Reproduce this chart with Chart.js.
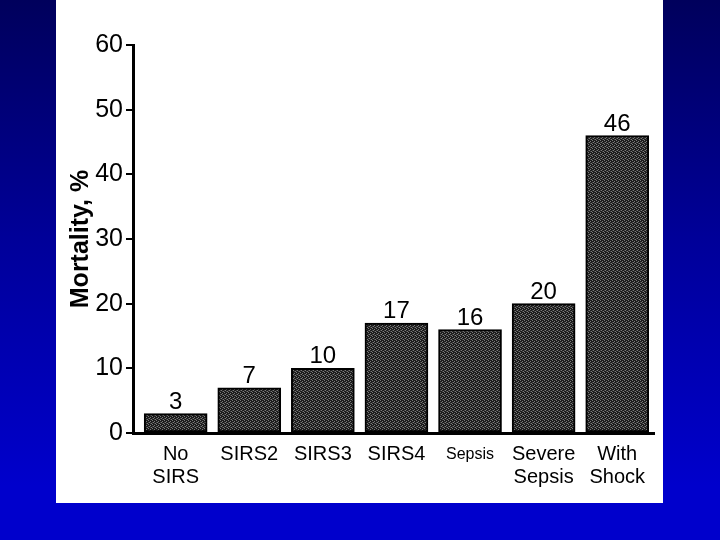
<!DOCTYPE html>
<html>
<head>
<meta charset="utf-8">
<script src="https://cdn.jsdelivr.net/npm/chart.js@4.4.1/dist/chart.umd.min.js"></script>
<style>
  html, body { margin: 0; padding: 0; }
  body { width: 720px; height: 540px; overflow: hidden; position: relative;
         background: linear-gradient(to bottom, #00005c 0%, #00009a 45%, #0000cc 90%, #0000cc 100%); }
  #panel { position: absolute; left: 56px; top: 0; width: 607px; height: 503px; background: #ffffff; }
  #c { position: absolute; left: 0; top: 0; }
</style>
</head>
<body>
<div id="panel"></div>
<canvas id="c" width="720" height="540"></canvas>
<script>
// ---- data ----
const categories = [["No", "SIRS"], ["SIRS2"], ["SIRS3"], ["SIRS4"], ["Sepsis"], ["Severe", "Sepsis"], ["With", "Shock"]];
const mortality = [3, 7, 10, 17, 16, 20, 46];
const yTicks = [0, 10, 20, 30, 40, 50, 60];
const yTitle = "Mortality, %";

// ---- bar texture (dithered dark gray, like the scanned print) ----
function makePattern() {
  const p = document.createElement('canvas');
  p.width = 4; p.height = 4;
  const g = p.getContext('2d');
  g.fillStyle = '#1c1c1c'; g.fillRect(0, 0, 4, 4);
  g.fillStyle = '#7a7a7a';
  [[0,0],[2,1],[1,2],[3,3]].forEach(([x,y]) => g.fillRect(x, y, 1, 1));
  g.fillStyle = '#444444';
  [[2,3],[0,2]].forEach(([x,y]) => g.fillRect(x, y, 1, 1));
  return g.createPattern(p, 'repeat');
}

const valueLabels = {
  id: 'valueLabels',
  afterDatasetsDraw(chart) {
    const ctx = chart.ctx;
    const meta = chart.getDatasetMeta(0);
    ctx.save();
    ctx.fillStyle = '#000';
    ctx.font = '24px "Liberation Sans", Arial, sans-serif';
    ctx.textAlign = 'center';
    ctx.textBaseline = 'alphabetic';
    meta.data.forEach((bar, i) => {
      ctx.fillText(String(mortality[i]), bar.x, bar.y - 5);
    });
    ctx.restore();
  }
};

const ctx = document.getElementById('c').getContext('2d');
new Chart(ctx, {
  type: 'bar',
  data: {
    datasets: [{
      data: mortality.map((v, i) => ({ x: i, y: v })),
      backgroundColor: makePattern(),
      borderColor: '#000000',
      borderWidth: 2,
      borderSkipped: false,
      barThickness: 63
    }]
  },
  options: {
    responsive: false,
    animation: false,
    devicePixelRatio: 1,
    layout: { padding: { left: 55, top: 45, right: 66, bottom: 0 } },
    plugins: { legend: { display: false }, tooltip: { enabled: false } },
    scales: {
      x: {
        type: 'linear',
        offset: false,
        min: -0.58,
        max: 6.5,
        afterBuildTicks(scale) { scale.ticks = categories.map((c, i) => ({ value: i })); },
        afterFit(scale) { scale.height = 107; },
        grid: { display: false, drawTicks: false, offset: false },
        border: { display: true, color: '#000', width: 3 },
        ticks: {
          color: '#000',
          padding: 10,
          autoSkip: false,
          maxRotation: 0,
          font: (c) => (c.index === 4
            ? { family: '"Liberation Sans", Arial, sans-serif', size: 16, lineHeight: 1.44 }
            : { family: '"Liberation Sans", Arial, sans-serif', size: 20, lineHeight: 1.15 }),
          callback: (v) => categories[v]
        }
      },
      y: {
        min: 0,
        max: 60,
        afterBuildTicks(scale) { scale.ticks = yTicks.map(v => ({ value: v })); },
        afterFit(scale) { scale.width = 78; },
        grid: { display: true, drawOnChartArea: false, drawTicks: true, tickLength: 7, color: '#000', lineWidth: 2 },
        border: { display: true, color: '#000', width: 3 },
        ticks: {
          color: '#000',
          padding: 3,
          font: { family: '"Liberation Sans", Arial, sans-serif', size: 25 }
        },
        title: {
          display: true,
          text: yTitle,
          color: '#000',
          padding: { top: 11, bottom: 0 },
          font: { family: '"Liberation Sans", Arial, sans-serif', size: 25, weight: 'bold' }
        }
      }
    }
  },
  plugins: [valueLabels]
});
</script>
</body>
</html>
